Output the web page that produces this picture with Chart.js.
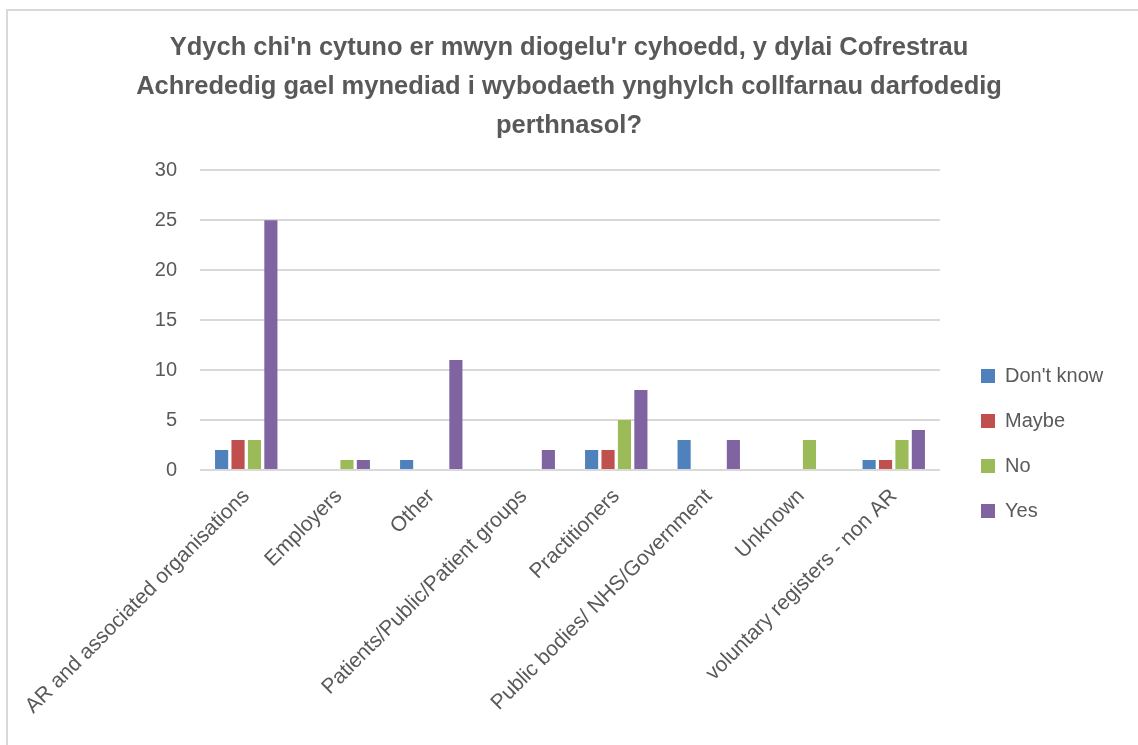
<!DOCTYPE html>
<html>
<head>
<meta charset="utf-8">
<script src="https://cdn.jsdelivr.net/npm/chart.js@4"></script>
<style>
  body { margin: 0; background: #fff; overflow: hidden; }
  #chart { position: absolute; left: 0; top: 0; }
  #frame { position: absolute; left: 6px; top: 9px; width: 1200px; height: 800px; border-left: 2px solid #d9d9d9; border-top: 2px solid #d9d9d9; pointer-events: none; }
</style>
</head>
<body>
<canvas id="chart" width="1138" height="745"></canvas>
<div id="frame"></div>
<script>
const categories = [
  'AR and associated organisations',
  'Employers',
  'Other',
  'Patients/Public/Patient groups',
  'Practitioners',
  'Public bodies/ NHS/Government',
  'Unknown',
  'voluntary registers - non AR'
];
const seriesNames = ["Don't know", 'Maybe', 'No', 'Yes'];
const dontKnow = [2, null, 1, null, 2, 3, null, 1];
const maybe = [3, null, null, null, 2, null, null, 1];
const no = [3, 1, null, null, 5, null, 3, 3];
const yes = [25, 1, 11, 2, 8, 3, null, 4];
const yTicks = [0, 5, 10, 15, 20, 25, 30];
const colors = ['#4f81bd', '#c0504d', '#9bbb59', '#8064a2'];
const titleLines = [
  "Ydych chi'n cytuno er mwyn diogelu'r cyhoedd, y dylai Cofrestrau",
  'Achrededig gael mynediad i wybodaeth ynghylch collfarnau darfodedig',
  'perthnasol?'
];

const grey = '#595959';
const font = 'Liberation Sans';

// legend column is wider than its text, and its items sit a bit lower/right
const legendSpot = {
  id: 'legendSpot',
  afterInit(chart) {
    const lg = chart.legend;
    const fit = lg.fit;
    lg.fit = function () { fit.call(this); this.width = 198; };
  },
  afterLayout(chart) {
    const lg = chart.legend;
    lg.left += 16; lg.right += 16;
    lg.top += 71; lg.bottom += 71;
  }
};

const ctx = document.getElementById('chart').getContext('2d');
new Chart(ctx, {
  type: 'bar',
  data: {
    labels: categories,
    datasets: [dontKnow, maybe, no, yes].map((d, i) => ({
      label: seriesNames[i],
      data: d,
      backgroundColor: colors[i],
      barPercentage: 0.8,
      categoryPercentage: 0.71
    }))
  },
  plugins: [legendSpot],
  options: {
    responsive: false,
    animation: false,
    layout: { padding: 0 },
    plugins: {
      title: {
        display: true,
        text: titleLines,
        color: grey,
        font: { family: font, size: 25.5, weight: 'bold', lineHeight: 1.52 },
        padding: { top: 29, bottom: 25 }
      },
      legend: {
        position: 'right',
        labels: {
          color: grey,
          font: { family: font, size: 20 },
          boxWidth: 14,
          boxHeight: 14,
          padding: 25
        }
      },
      tooltip: { enabled: false }
    },
    scales: {
      y: {
        min: yTicks[0],
        max: yTicks[yTicks.length - 1],
        afterFit: s => { s.width = 200; },
        ticks: { stepSize: 5, color: grey, font: { family: font, size: 20 }, padding: 23 },
        grid: { color: '#d9d9d9', lineWidth: 2, drawTicks: false },
        border: { display: false }
      },
      x: {
        afterFit: s => { s.height = 275; },
        ticks: { color: grey, font: { family: font, size: 21 }, minRotation: 45, maxRotation: 45, padding: 6 },
        grid: { display: false },
        border: { display: false }
      }
    }
  }
});
</script>
</body>
</html>
